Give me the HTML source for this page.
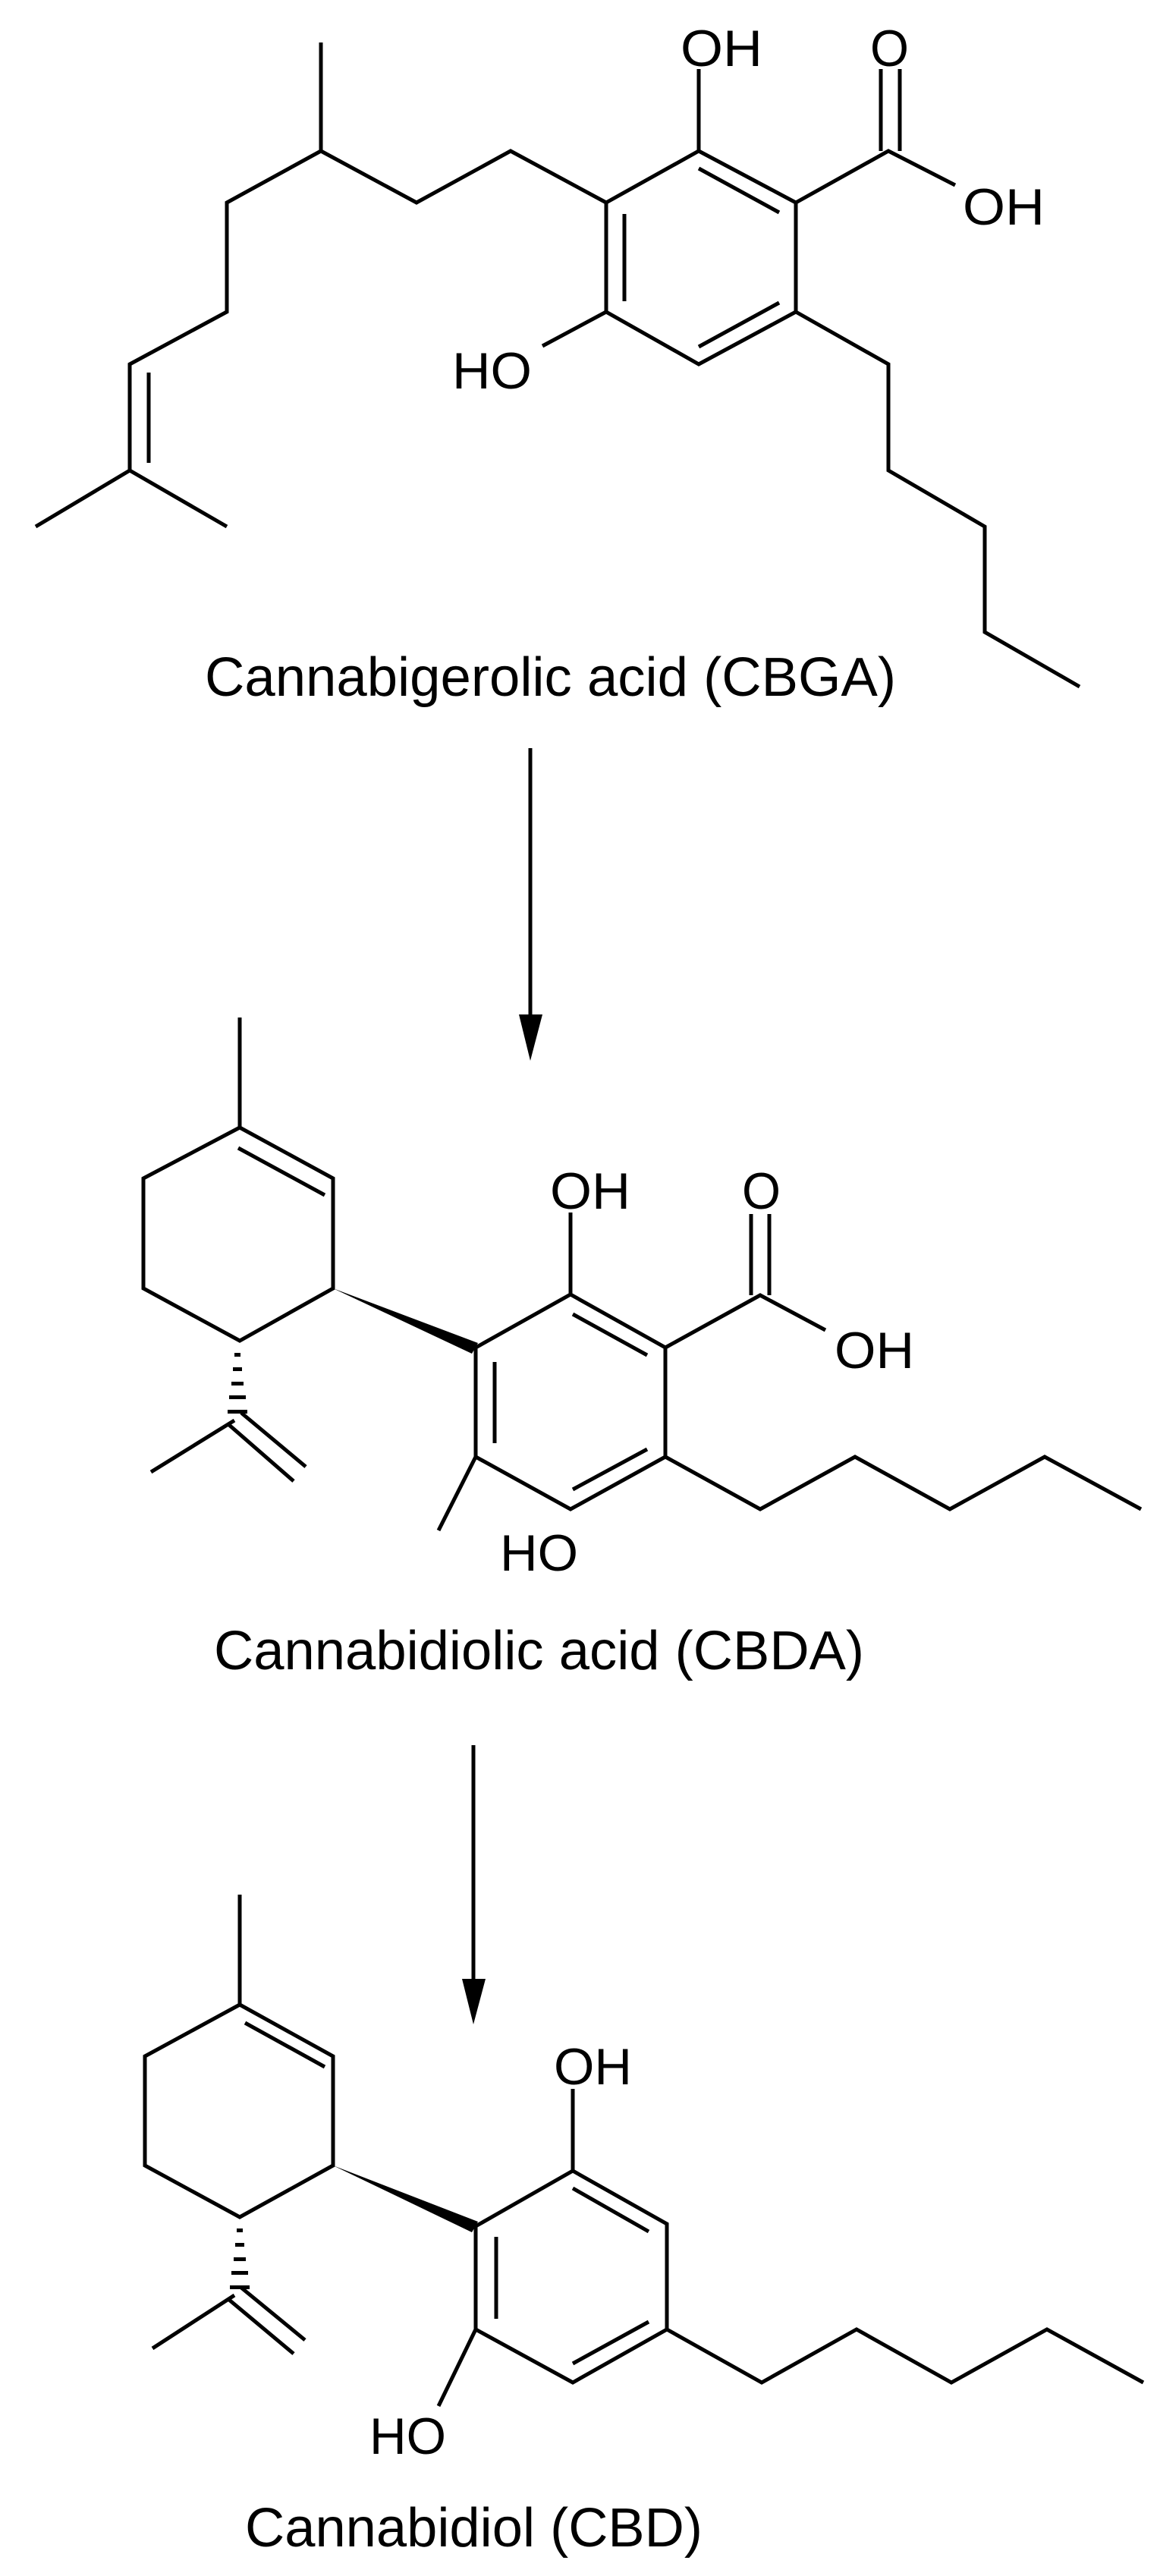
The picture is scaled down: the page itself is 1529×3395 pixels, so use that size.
<!DOCTYPE html>
<html><head><meta charset="utf-8"><style>
html,body{margin:0;padding:0;background:#fff;}
svg{display:block;}
text{font-family:"Liberation Sans",Arial,sans-serif;fill:#000;}
</style></head><body>
<svg width="1529" height="3395" viewBox="0 0 1529 3395" xmlns="http://www.w3.org/2000/svg">
<g stroke="#000" stroke-width="5" fill="none" stroke-linecap="butt" stroke-linejoin="miter">
<!-- CBGA -->
<polyline points="423,56 423,199 299,267 299,411 171,480 171,620 47,694"/>
<line x1="171" y1="620" x2="299" y2="694"/>
<line x1="196" y1="491" x2="196" y2="610"/>
<polyline points="423,199 549,267 673,199 799,267"/>
<polygon points="799,267 921,199 1049,267 1049,411 921,480 799,411"/>
<line x1="823" y1="282" x2="823" y2="397"/>
<line x1="921" y1="222" x2="1027" y2="280"/>
<line x1="921" y1="457" x2="1027" y2="399"/>
<line x1="921" y1="199" x2="921" y2="91"/>
<polyline points="1049,267 1171,199 1259,244"/>
<line x1="1161" y1="199" x2="1161" y2="91"/>
<line x1="1186" y1="199" x2="1186" y2="91"/>
<line x1="799" y1="411" x2="715" y2="456"/>
<polyline points="1049,411 1171,480 1171,620 1298,694 1298,833 1423,905"/>
<!-- arrow 1 -->
<line x1="699" y1="986" x2="699" y2="1345"/>
<!-- CBDA -->
<line x1="316" y1="1341" x2="316" y2="1486"/>
<polygon points="316,1486 439,1553 439,1698 316,1767 189,1698 189,1553"/>
<line x1="314" y1="1513" x2="428" y2="1575"/>
<line x1="309" y1="1872" x2="199" y2="1940"/>
<line x1="318" y1="1862" x2="403" y2="1933"/>
<line x1="302" y1="1878" x2="387" y2="1952"/>
<polygon points="627,1776 752,1706 877,1776 877,1920 752,1989 627,1920"/>
<line x1="652" y1="1795" x2="652" y2="1902"/>
<line x1="755" y1="1732" x2="853" y2="1786"/>
<line x1="755" y1="1963" x2="853" y2="1910"/>
<line x1="752" y1="1706" x2="752" y2="1598"/>
<polyline points="877,1776 1002,1707 1088,1753"/>
<line x1="990" y1="1707" x2="990" y2="1600"/>
<line x1="1014" y1="1707" x2="1014" y2="1600"/>
<line x1="627" y1="1920" x2="578" y2="2017"/>
<polyline points="877,1920 1002,1989 1127,1920 1252,1989 1377,1920 1504,1989"/>
<!-- arrow 2 -->
<line x1="624" y1="2300" x2="624" y2="2615"/>
<!-- CBD -->
<line x1="316" y1="2497" x2="316" y2="2642"/>
<polygon points="316,2642 439,2710 439,2854 316,2922 191,2854 191,2710"/>
<line x1="323" y1="2666" x2="428" y2="2724"/>
<line x1="309" y1="3025" x2="201" y2="3095"/>
<line x1="318" y1="3015" x2="402" y2="3084"/>
<line x1="302" y1="3031" x2="387" y2="3102"/>
<polygon points="627,2934 755,2861 879,2931 879,3070 755,3140 627,3070"/>
<line x1="654" y1="2948" x2="654" y2="3056"/>
<line x1="755" y1="2884" x2="855" y2="2941"/>
<line x1="755" y1="3115" x2="855" y2="3060"/>
<line x1="755" y1="2861" x2="755" y2="2753"/>
<line x1="627" y1="3070" x2="578" y2="3171"/>
<polyline points="879,3070 1004,3140 1129,3070 1254,3140 1380,3070 1507,3140"/>
</g>
<g fill="#000">
<!-- arrowheads -->
<polygon points="684,1337 715,1337 699,1398"/>
<polygon points="609,2608 640,2608 624,2668"/>
<!-- wedges -->
<polygon points="439,1698 630,1770 622,1784"/>
<polygon points="439,2854 630,2928 622,2942"/>
<!-- hashes CBDA -->
<rect x="309" y="1783" width="8" height="5"/>
<rect x="307" y="1802" width="12" height="5"/>
<rect x="305" y="1821" width="16" height="5"/>
<rect x="302" y="1839" width="22" height="5"/>
<rect x="300" y="1858" width="26" height="5"/>
<!-- hashes CBD -->
<rect x="312" y="2937" width="8" height="5"/>
<rect x="310" y="2956" width="12" height="5"/>
<rect x="308" y="2975" width="16" height="5"/>
<rect x="305" y="2993" width="22" height="5"/>
<rect x="303" y="3012" width="26" height="5"/>
</g>
<g font-size="68">
<text x="897" y="87" textLength="108" lengthAdjust="spacingAndGlyphs">OH</text>
<text x="1147" y="87" textLength="51" lengthAdjust="spacingAndGlyphs">O</text>
<text x="1269" y="296" textLength="108" lengthAdjust="spacingAndGlyphs">OH</text>
<text x="596" y="512" textLength="105" lengthAdjust="spacingAndGlyphs">HO</text>
<text x="725" y="1593" textLength="106" lengthAdjust="spacingAndGlyphs">OH</text>
<text x="978" y="1593" textLength="51" lengthAdjust="spacingAndGlyphs">O</text>
<text x="1100" y="1803" textLength="105" lengthAdjust="spacingAndGlyphs">OH</text>
<text x="659" y="2070" textLength="103" lengthAdjust="spacingAndGlyphs">HO</text>
<text x="730" y="2747" textLength="103" lengthAdjust="spacingAndGlyphs">OH</text>
<text x="487" y="3234" textLength="101" lengthAdjust="spacingAndGlyphs">HO</text>
</g>
<g font-size="72">
<text x="270" y="917" textLength="911" lengthAdjust="spacingAndGlyphs">Cannabigerolic acid (CBGA)</text>
<text x="282" y="2200" textLength="857" lengthAdjust="spacingAndGlyphs">Cannabidiolic acid (CBDA)</text>
<text x="323" y="3356" textLength="603" lengthAdjust="spacingAndGlyphs">Cannabidiol (CBD)</text>
</g>
</svg>
</body></html>
